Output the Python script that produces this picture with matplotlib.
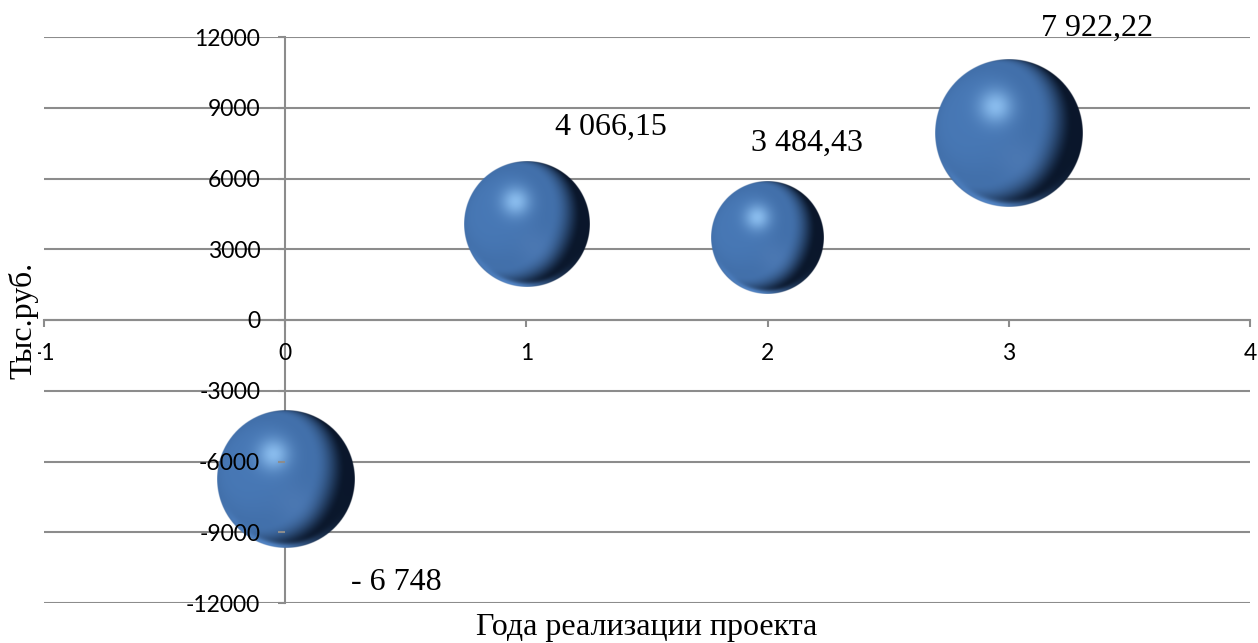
import numpy as np
import matplotlib
matplotlib.use("Agg")
import matplotlib.pyplot as plt

# Project years and net cash flow per year, thousand roubles
years = [0, 1, 2, 3]
cash_flow = [-6748.0, 4066.15, 3484.43, 7922.22]
value_labels = ["- 6 748", "4 066,15", "3 484,43", "7 922,22"]
# relative bubble weights (area-proportional)
bubble_weight = [0.86, 0.72, 0.58, 1.00]

x_ticks = [-1, 0, 1, 2, 3, 4]
y_ticks = [-12000, -9000, -6000, -3000, 0, 3000, 6000, 9000, 12000]

x_title = "Года реализации проекта"
y_title = "Тыс.руб."

# styling
MAX_RADIUS_PX = 74
LABEL_OFFSETS_PX = [(111, -103), (85, 97), (39, 94), (88, 105)]
GRID_COLOR = "#8c8c8c"
TICK_FONT = "Lato"
SERIF_FONT = "Liberation Serif"
SERIF_SIZE = 23

plt.rcParams["axes.unicode_minus"] = False


def smooth(v):
    v = np.clip(v, 0, 1)
    return v * v * (3 - 2 * v)


def sphere_image(n=360):
    u = np.linspace(-1, 1, n)
    X, Y = np.meshgrid(u, -u)
    r = np.sqrt(X ** 2 + Y ** 2)
    Z = np.sqrt(np.clip(1 - r ** 2, 0, 1))

    L = np.array([-0.55, 0.22, 0.8])
    L = L / np.linalg.norm(L)
    t = X * L[0] + Y * L[1] + Z * L[2]

    dark = np.array([0.04, 0.09, 0.17])
    mid = np.array([0.26, 0.44, 0.67])
    centre = np.array([0.28, 0.47, 0.71])
    hi = np.array([0.62, 0.82, 1.0])

    s = smooth((t + 0.05) / 0.6)
    col = dark + (mid - dark) * s[..., None]
    s2 = smooth((t - 0.6) / 0.4)
    col = col + (centre - mid) * s2[..., None]

    # soft specular highlight, upper left of centre
    spec = np.exp(-((X + 0.18) ** 2 + (Y - 0.36) ** 2) / (2 * 0.16 ** 2))
    col = col + (hi - col) * (0.75 * spec)[..., None]

    # faint glow low right of centre
    glow = np.exp(-((X - 0.12) ** 2 + (Y + 0.36) ** 2) / (2 * 0.2 ** 2))
    col = col + (np.array([0.34, 0.51, 0.74]) - col) * (0.4 * glow)[..., None]

    # reflected light along the lower rim
    rim = np.exp(-((r - 0.985) / 0.06) ** 2) * smooth((-Y - 0.2) / 0.6) \
        * np.exp(-((X + 0.25) ** 2) / (2 * 0.45 ** 2))
    col = col + (np.array([0.36, 0.58, 0.86]) - col) * (0.85 * rim)[..., None]

    alpha = np.clip((1 - r) * n / 2 + 0.5, 0, 1)
    return np.dstack([np.clip(col, 0, 1), alpha])


W, H = 1258, 643
fig = plt.figure(figsize=(W / 100, H / 100), dpi=100)
ax = fig.add_axes([44 / W, 1 - 603 / H, (1250 - 44) / W, (603 - 37) / H])
ax.set_xlim(x_ticks[0], x_ticks[-1])
ax.set_ylim(y_ticks[0], y_ticks[-1])

# horizontal gridlines behind the bubbles
for yv in y_ticks:
    ax.axhline(yv, color=GRID_COLOR, lw=1.5, zorder=1)

for side in ("top", "right"):
    ax.spines[side].set_visible(False)
ax.spines["left"].set_position(("data", 0))
ax.spines["bottom"].set_position(("data", 0))
for side in ("left", "bottom"):
    ax.spines[side].set_color(GRID_COLOR)
    ax.spines[side].set_linewidth(1.5)
    ax.spines[side].set_zorder(1)

ax.set_xticks(x_ticks)
ax.set_yticks(y_ticks)
ax.set_xticklabels([str(v) for v in x_ticks])
ax.set_yticklabels([str(v) for v in y_ticks])
ax.tick_params(axis="both", direction="out", length=5, width=1.5,
               color=GRID_COLOR, labelsize=16.5, labelcolor="black")
ax.tick_params(axis="x", pad=11.5)
ax.tick_params(axis="y", pad=13)
for lab in ax.get_xticklabels() + ax.get_yticklabels():
    lab.set_fontfamily(TICK_FONT)
ax.xaxis.set_zorder(5)
ax.yaxis.set_zorder(5)
ax.patch.set_visible(False)

# spheres
img = sphere_image()
inv = ax.transData.inverted()
for xv, yv, w in zip(years, cash_flow, bubble_weight):
    rpx = MAX_RADIUS_PX * np.sqrt(w)
    cx, cy = ax.transData.transform((xv, yv))
    x0, y0 = inv.transform((cx - rpx, cy - rpx))
    x1, y1 = inv.transform((cx + rpx, cy + rpx))
    ax.imshow(img, extent=[x0, x1, y0, y1], origin="upper",
              interpolation="bilinear", zorder=3, aspect="auto")
ax.set_xlim(x_ticks[0], x_ticks[-1])
ax.set_ylim(y_ticks[0], y_ticks[-1])
ax.set_aspect("auto")

for xv, yv, txt, off in zip(years, cash_flow, value_labels, LABEL_OFFSETS_PX):
    ax.annotate(txt, (xv, yv), xytext=off, textcoords="offset pixels",
                ha="center", va="center", fontsize=SERIF_SIZE,
                fontfamily=SERIF_FONT, color="black", zorder=6)

fig.text(647 / W, 1 - 627 / H, x_title, ha="center", va="center",
         fontsize=SERIF_SIZE, fontfamily=SERIF_FONT)
fig.text(23 / W, 1 - 320 / H, y_title, ha="center", va="center",
         rotation=90, fontsize=SERIF_SIZE, fontfamily=SERIF_FONT,
         bbox=dict(facecolor="white", edgecolor="none", pad=0))

fig.savefig("out.png", dpi=100, facecolor="white")
